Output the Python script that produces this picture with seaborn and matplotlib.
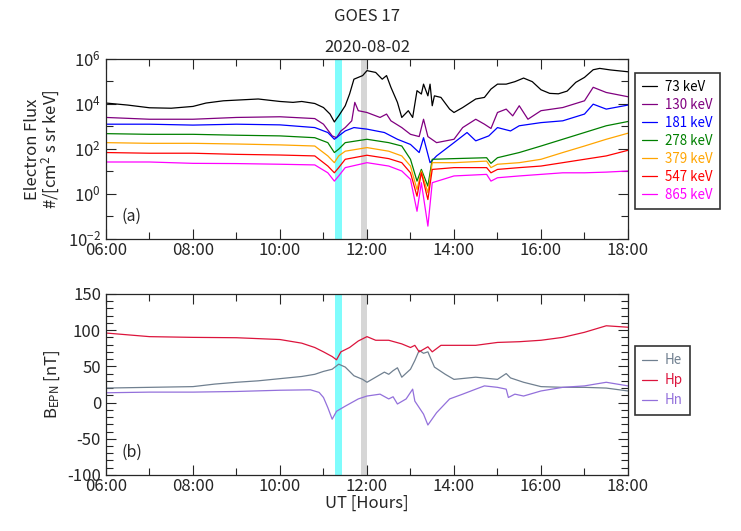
import numpy as np
import pandas as pd
import matplotlib
matplotlib.use("Agg")
import matplotlib.pyplot as plt
import matplotlib.ticker as mticker
import seaborn as sns


# DADOS

# painel (a): log10 do fluxo de eletrons
t73 = [6, 6.5, 7, 7.5, 8, 8.3, 8.7, 9, 9.5, 10, 10.3, 10.5, 10.8, 11.0, 11.15,
       11.25, 11.35, 11.5, 11.6, 11.7, 11.8, 11.9, 12.0, 12.2, 12.35, 12.45,
       12.55, 12.7, 12.8, 12.95, 13.05, 13.15, 13.25, 13.3, 13.4, 13.45, 13.5,
       13.55, 13.7, 13.9, 14.0, 14.2, 14.5, 14.7, 14.85, 15.0, 15.2, 15.4,
       15.6, 15.8, 16.0, 16.2, 16.4, 16.6, 16.8, 17.0, 17.2, 17.35, 17.6, 18.0]
f73 = [4.04, 3.95, 3.83, 3.81, 3.89, 4.04, 4.14, 4.17, 4.22, 4.11, 4.07, 4.11,
       4.02, 3.84, 3.55, 3.2, 3.47, 3.92, 4.44, 5.1, 5.18, 5.26, 5.48, 5.4,
       5.1, 5.26, 4.74, 4.07, 3.4, 3.7, 3.4, 4.59, 4.44, 4.88, 4.36, 4.88,
       3.92, 4.36, 4.29, 3.77, 3.62, 3.84, 4.22, 4.29, 4.66, 4.88, 4.88, 4.99,
       5.15, 4.99, 4.63, 4.47, 4.45, 4.57, 4.96, 5.18, 5.52, 5.58, 5.51, 5.43]

t130 = [6, 7, 8, 9, 10, 10.8, 11.0, 11.2, 11.3, 11.4, 11.5, 11.65, 11.72,
        11.8, 12.0, 12.3, 12.45, 12.55, 12.8, 13.0, 13.2, 13.3, 13.4, 13.6,
        14.0, 14.2, 14.5, 14.7, 14.85, 15.0, 15.2, 15.35, 15.5, 15.7, 16.0,
        16.5, 17.0, 17.2, 17.5, 18.0]
f130 = [3.40, 3.32, 3.32, 3.40, 3.43, 3.35, 3.1, 2.58, 2.5, 2.8, 2.95, 3.25,
        4.07, 3.7, 3.62, 3.4, 3.55, 3.25, 2.95, 2.65, 2.55, 3.32, 2.55, 2.28,
        2.43, 2.95, 3.32, 3.1, 2.91, 3.62, 3.77, 3.47, 3.92, 3.32, 3.7, 3.84,
        4.14, 4.74, 4.51, 4.32]

t181 = [6, 7, 8, 9, 10, 10.8, 11.1, 11.25, 11.35, 11.5, 11.7, 12.0, 12.4,
        12.7, 13.0, 13.2, 13.3, 13.45, 13.6, 14.0, 14.3, 14.5, 14.8, 15.0,
        15.3, 15.5, 16.0, 16.5, 17.0, 17.2, 17.5, 18.0]
f181 = [3.10, 3.10, 3.06, 3.10, 3.07, 2.95, 2.73, 2.43, 2.58, 2.8, 2.95, 2.88,
        2.73, 2.43, 2.2, 1.84, 2.5, 1.39, 1.69, 2.28, 2.73, 2.36, 2.58, 2.95,
        2.8, 3.03, 3.17, 3.25, 3.55, 3.99, 3.77, 3.95]

t_hi = [6, 7, 8, 9, 10, 10.8, 11.1, 11.25, 11.35, 11.5, 12.0, 12.5, 12.8,
        13.0, 13.15, 13.25, 13.4, 13.5, 14.0, 14.75, 14.85, 15.0, 15.5, 16.0,
        16.5, 17.0, 17.5, 18.0]
f278 = [2.68, 2.65, 2.65, 2.61, 2.58, 2.5, 2.28, 1.84, 1.99, 2.28, 2.43, 2.28,
        2.13, 1.54, 0.57, 1.09, 0.35, 1.54, 1.57, 1.61, 1.36, 1.61, 1.84,
        2.13, 2.43, 2.73, 3.03, 3.22]
f379 = [2.28, 2.25, 2.25, 2.22, 2.18, 2.13, 1.69, 1.39, 1.69, 1.9, 2.06, 1.9,
        1.69, 1.24, 0.2, 1.02, 0.05, 1.39, 1.39, 1.46, 1.17, 1.32, 1.39, 1.54,
        1.84, 2.13, 2.43, 2.70]
f547 = [1.84, 1.81, 1.81, 1.76, 1.73, 1.69, 1.24, 0.94, 1.17, 1.54, 1.72, 1.57,
        1.39, 0.94, -0.1, 0.94, -0.25, 1.09, 1.17, 1.17, 0.94, 1.09, 1.17,
        1.24, 1.39, 1.54, 1.69, 1.94]
f865 = [1.42, 1.42, 1.36, 1.35, 1.32, 1.29, 0.94, 0.57, 0.8, 1.17, 1.39, 1.24,
        1.02, 0.65, -0.77, 0.5, -1.43, 0.5, 0.8, 0.87, 0.57, 0.72, 0.8, 0.87,
        0.94, 0.94, 0.97, 1.02]

energias = ["73 keV", "130 keV", "181 keV", "278 keV",
            "379 keV", "547 keV", "865 keV"]
cores_a = ["black", "purple", "blue", "green", "orange", "red", "magenta"]

# painel (b): campo magnetico EPN [nT]
t_hp = [6, 7, 8, 9, 10, 10.5, 10.8, 11.0, 11.2, 11.3, 11.4, 11.6, 11.8, 12.0,
        12.2, 12.5, 12.8, 13.0, 13.1, 13.2, 13.4, 13.5, 13.7, 14.0, 14.5,
        15.0, 15.5, 16.0, 16.5, 17.0, 17.5, 18.0]
hp = [96, 91, 90, 89.5, 87, 82, 76, 70, 63.5, 59, 70, 76, 85, 91, 86, 86, 81,
      76, 79, 70, 77, 70, 79, 79, 79, 83, 84, 86, 90, 97, 106, 104]

t_he = [6, 7, 8, 8.5, 9, 9.5, 10, 10.5, 10.8, 11.0, 11.2, 11.35, 11.5, 11.7,
        11.9, 12.0, 12.2, 12.4, 12.5, 12.6, 12.7, 12.8, 13.0, 13.1, 13.2,
        13.3, 13.4, 13.55, 13.8, 14.0, 14.5, 15.0, 15.2, 15.3, 15.6, 16.0,
        16.5, 17.0, 17.5, 18.0]
he = [20, 21, 22, 25.5, 28, 30, 33, 36, 39, 43, 46, 53, 49, 37, 32, 28, 35,
      42, 39, 44, 48, 35, 46, 58, 72, 68, 70, 49, 39, 32, 35, 32, 40, 34, 28,
      22, 21, 21, 20, 16]

t_hn = [6, 7, 8, 9, 10, 10.7, 10.9, 11.0, 11.1, 11.2, 11.3, 11.5, 11.8, 12.0,
        12.3, 12.5, 12.6, 12.7, 12.9, 13.05, 13.1, 13.3, 13.4, 13.6, 13.9,
        14.2, 14.5, 14.7, 15.0, 15.2, 15.25, 15.4, 15.6, 16.0, 16.5, 17.0,
        17.5, 18.0]
hn = [13.5, 14.4, 14.4, 15.3, 17, 17.6, 14, 7, -7, -23, -12, -5, 5, 9, 11.6,
      5, 8, -2, 5, 18.5, 2, -16, -31, -14, 5, 11.6, 18.5, 23, 21, 18.5, 7,
      11.6, 9, 16, 21, 23, 28, 23]

componentes = ["He", "Hp", "Hn"]
cores_b = ["slategray", "crimson", "mediumpurple"]

faixa_ciano = (11.27, 11.42)
faixa_cinza = (11.86, 12.01)


# ESTILO

sns.set_style("ticks")
plt.rcParams["font.family"] = ["Noto Sans CJK KR", "DejaVu Sans"]
plt.rcParams["mathtext.fontset"] = "custom"
plt.rcParams["mathtext.rm"] = "Noto Sans CJK KR"
plt.rcParams["mathtext.it"] = "Noto Sans CJK KR"
plt.rcParams["axes.unicode_minus"] = False
plt.rcParams["font.size"] = 11

fig = plt.figure(figsize=(7.41, 5.31), dpi=100)
ax_a = fig.add_axes([0.143, 0.55, 0.7045, 0.339])
ax_b = fig.add_axes([0.143, 0.1055, 0.7045, 0.341])


def formata_hora(x, pos):
    return f"{int(round(x)):02d}:00"


def ajusta_eixo_x(ax):
    ax.set_xlim(6, 18)
    ax.xaxis.set_major_locator(mticker.MultipleLocator(2))
    ax.xaxis.set_minor_locator(mticker.MultipleLocator(1))
    ax.xaxis.set_major_formatter(mticker.FuncFormatter(formata_hora))
    ax.tick_params(which="both", direction="in", top=True, right=True,
                   labelsize=12, width=0.8)
    ax.tick_params(axis="x", which="major", pad=2)
    ax.tick_params(which="major", length=7)
    ax.tick_params(which="minor", length=5)
    ax.axvspan(*faixa_ciano, color="#7ffcfc", lw=0, zorder=0)
    ax.axvspan(*faixa_cinza, color="#d6d6d6", lw=0, zorder=0)
    for s in ax.spines.values():
        s.set_linewidth(0.9)


# PAINEL (a)

tempos_a = [t73, t130, t181, t_hi, t_hi, t_hi, t_hi]
fluxos_a = [f73, f130, f181, f278, f379, f547, f865]

for tt, ff, nome, cor in zip(tempos_a, fluxos_a, energias, cores_a):
    df = pd.DataFrame({"t": tt, "fluxo": 10 ** np.array(ff)})
    sns.lineplot(data=df, x="t", y="fluxo", ax=ax_a, color=cor,
                 lw=0.9, label=nome)

ax_a.set_yscale("log")
ax_a.set_ylim(1e-2, 1e6)
ax_a.yaxis.set_major_locator(mticker.FixedLocator([1e-2, 1e0, 1e2, 1e4, 1e6]))
ax_a.yaxis.set_minor_locator(mticker.FixedLocator([1e-1, 1e1, 1e3, 1e5]))
ax_a.yaxis.set_major_formatter(mticker.FuncFormatter(
    lambda v, p: f"$10^{{{int(round(np.log10(v)))}}}$"))
ax_a.yaxis.set_minor_formatter(mticker.NullFormatter())
ajusta_eixo_x(ax_a)
ax_a.set_xlabel("")
ax_a.set_ylabel("Electron Flux\n#/[cm$^2$ s sr keV]", fontsize=12,
                linespacing=0.95, labelpad=4)
ax_a.set_title("2020-08-02", fontsize=12, pad=5)
ax_a.text(0.03, 0.1, "(a)", transform=ax_a.transAxes, fontsize=11.5)

leg_a = ax_a.legend(loc="upper left", bbox_to_anchor=(1.0, 0.96),
                    fontsize=9.6, frameon=True, fancybox=False,
                    edgecolor="black", handlelength=1.1, labelspacing=0.3,
                    borderpad=0.55, handletextpad=0.6, borderaxespad=0.5)
leg_a.get_frame().set_linewidth(1.2)
for txt, cor in zip(leg_a.get_texts(), cores_a):
    txt.set_color(cor)


# PAINEL (b)

tempos_b = [t_he, t_hp, t_hn]
campos_b = [he, hp, hn]

for tt, vv, nome, cor in zip(tempos_b, campos_b, componentes, cores_b):
    df = pd.DataFrame({"t": tt, "B": vv})
    sns.lineplot(data=df, x="t", y="B", ax=ax_b, color=cor,
                 lw=0.9, label=nome)

ax_b.set_ylim(-100, 150)
ax_b.yaxis.set_major_locator(mticker.MultipleLocator(50))
ax_b.yaxis.set_minor_locator(mticker.MultipleLocator(10))
ajusta_eixo_x(ax_b)
ax_b.set_xlabel("UT [Hours]", fontsize=12, labelpad=0)
ax_b.set_ylabel("B$_{EPN}$ [nT]", fontsize=12)
ax_b.text(0.03, 0.1, "(b)", transform=ax_b.transAxes, fontsize=11.5)

leg_b = ax_b.legend(loc="upper left", bbox_to_anchor=(1.0, 0.75),
                    fontsize=9.6, frameon=True, fancybox=False,
                    edgecolor="black", handlelength=1.1, labelspacing=0.45,
                    borderpad=0.55, handletextpad=0.6, borderaxespad=0.5)
leg_b.get_frame().set_linewidth(1.2)
for txt, cor in zip(leg_b.get_texts(), cores_b):
    txt.set_color(cor)

fig.suptitle("GOES 17", x=0.495, y=0.985, fontsize=12)

fig.savefig("out.png", dpi=100)
